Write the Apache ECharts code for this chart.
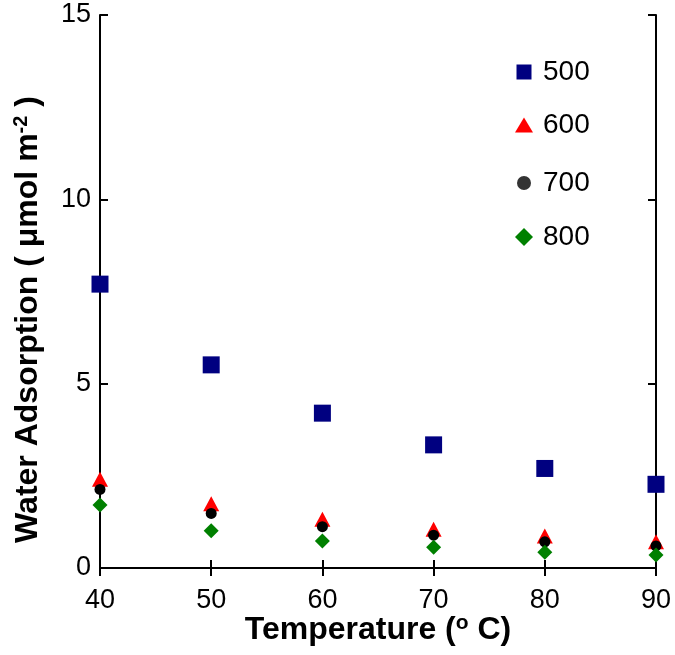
<!DOCTYPE html>
<html>
<head>
<meta charset="utf-8">
<script src="https://cdn.jsdelivr.net/npm/echarts@6/dist/echarts.min.js"></script>
<style>html,body{margin:0;padding:0;background:#fff}#c{width:675px;height:655px}</style>
</head>
<body>
<div id="c"></div>
<script>
const temperatures = [40, 50, 60, 70, 80, 90];
const s500 = [7.70, 5.51, 4.20, 3.34, 2.70, 2.27];
const s600 = [2.41, 1.74, 1.32, 1.05, 0.87, 0.71];
const s700 = [2.13, 1.48, 1.12, 0.89, 0.71, 0.60];
const s800 = [1.71, 1.01, 0.73, 0.56, 0.43, 0.35];
const seriesNames = ['500', '600', '700', '800'];
const xTicks = [40, 50, 60, 70, 80, 90];
const yTicks = [0, 5, 10, 15];

const FONT = '"Liberation Sans", Arial, sans-serif';
const pairs = arr => temperatures.map((t, i) => [t, arr[i]]);

const styles = [
  {symbol: 'rect', size: 17, color: '#000080', legendColor: '#000080', lsize: [15, 15], cy: 74},
  {symbol: 'triangle', size: [16, 15], color: '#ff0000', legendColor: '#ff0000', lsize: [18, 15], cy: 127},
  {symbol: 'circle', size: 11, color: '#000000', legendColor: '#333333', lsize: [14, 14], cy: 185},
  {symbol: 'diamond', size: 15, color: '#008000', legendColor: '#008000', lsize: [18, 18], cy: 239}
];
const dataSets = [s500, s600, s700, s800];

const axisLineStyle = {lineStyle: {color: '#000', width: 2}};
const tickIn = {inside: true, length: 8, lineStyle: {color: '#000', width: 2}};

const option = {
  animation: false,
  backgroundColor: '#fff',
  grid: {left: 100, right: 19, top: 15, bottom: 87, containLabel: false},
  legend: seriesNames.map((n, i) => ({
    data: [n],
    orient: 'vertical',
    padding: 0,
    left: 524 - styles[i].lsize[0] / 2,
    top: styles[i].cy - 16,
    itemWidth: styles[i].lsize[0],
    itemHeight: styles[i].lsize[1],
    itemStyle: {color: styles[i].legendColor},
    selectedMode: false,
    textStyle: {fontFamily: FONT, fontSize: 28, color: '#000', padding: [0, 0, 0, 20 - styles[i].lsize[0] / 2 - 5 - 1]}
  })),
  xAxis: [{
    type: 'value', min: 40, max: 90, interval: 10,
    name: 'Temperature ({sup|o} C)',
    nameLocation: 'middle', nameGap: 45, nameMoveOverlap: false,
    nameTextStyle: {fontFamily: FONT, fontSize: 32, fontWeight: 'bold', color: '#000',
      rich: {sup: {fontFamily: FONT, fontSize: 21, fontWeight: 'bold', color: '#000', verticalAlign: 'top', padding: [0, 0, 14, 0]}}},
    axisLine: axisLineStyle, axisTick: tickIn, splitLine: {show: false},
    axisLabel: {fontFamily: FONT, fontSize: 27, color: '#000', margin: 19}
  }, {
    type: 'value', min: 40, max: 90, interval: 10, position: 'top',
    axisLine: axisLineStyle, axisTick: tickIn, axisLabel: {show: false}, splitLine: {show: false}
  }],
  yAxis: [{
    type: 'value', min: 0, max: 15, interval: 5,
    name: 'Water Adsorption ( μmol m{sup|-2} )',
    nameLocation: 'middle', nameGap: 55, nameRotate: 90, nameMoveOverlap: false,
    nameTextStyle: {fontFamily: FONT, fontSize: 32, fontWeight: 'bold', color: '#000', padding: [0, 56, 0, 0],
      rich: {sup: {fontFamily: FONT, fontSize: 20, fontWeight: 'bold', color: '#000', verticalAlign: 'top', padding: [0, 0, 14, 0]}}},
    axisLine: axisLineStyle, axisTick: tickIn, splitLine: {show: false},
    axisLabel: {fontFamily: FONT, fontSize: 27, color: '#000', margin: 9}
  }, {
    type: 'value', min: 0, max: 15, interval: 5, position: 'right',
    axisLine: axisLineStyle, axisTick: tickIn, axisLabel: {show: false}, splitLine: {show: false}
  }],
  series: seriesNames.map((n, i) => ({
    name: n, type: 'scatter', xAxisIndex: 0, yAxisIndex: 0,
    symbol: styles[i].symbol, symbolSize: styles[i].size,
    itemStyle: {color: styles[i].color, opacity: 1},
    data: pairs(dataSets[i]),
    clip: false
  }))
};
echarts.init(document.getElementById('c')).setOption(option);
</script>
</body>
</html>
